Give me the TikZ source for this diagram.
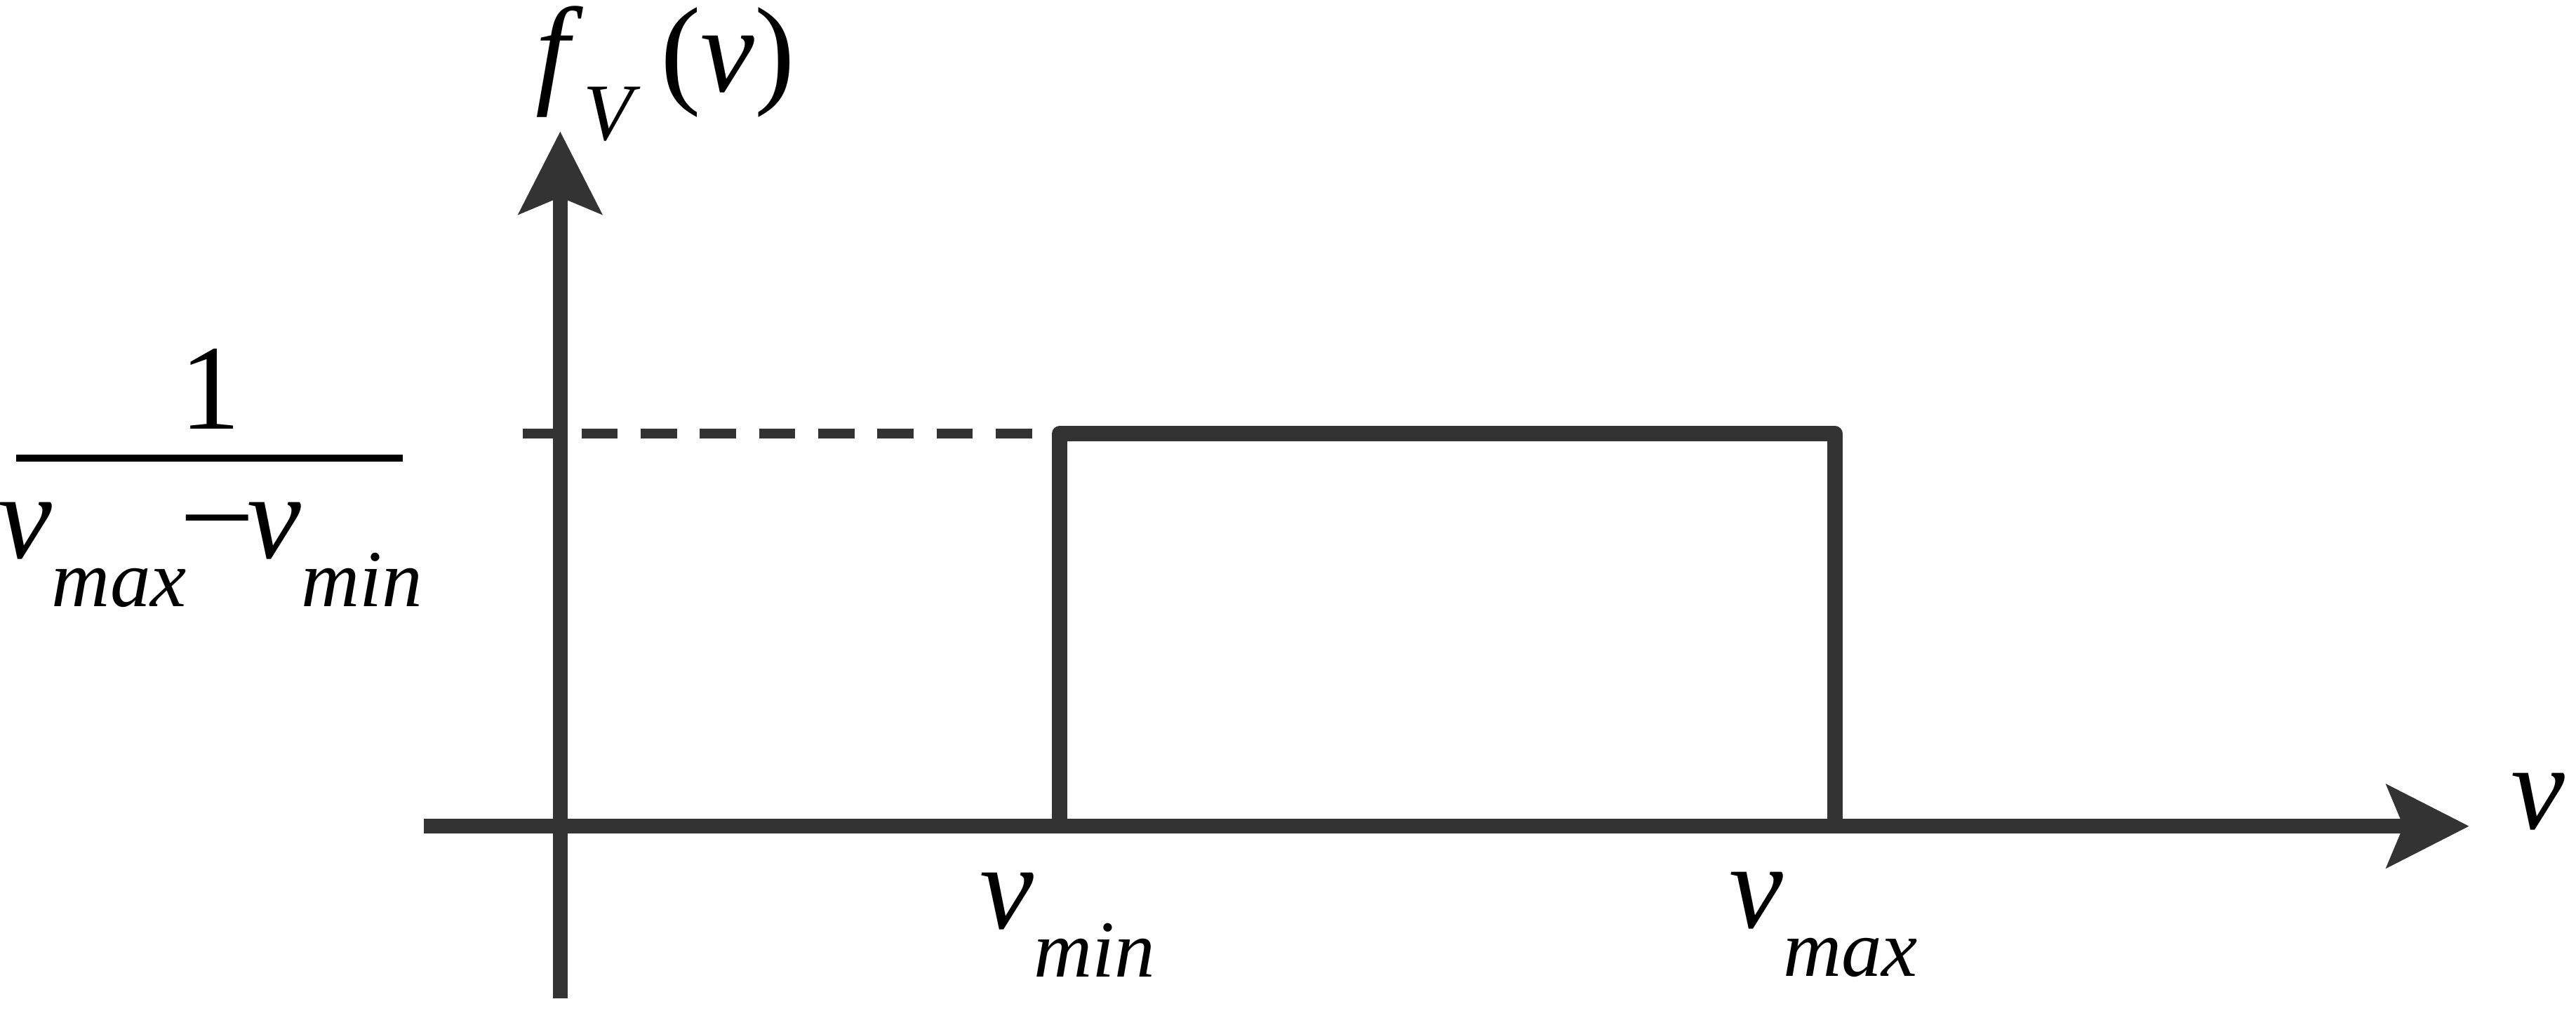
\documentclass[tikz,border=0pt]{standalone}
\usepackage{fontspec}
\setmainfont{Liberation Serif}
\usetikzlibrary{arrows.meta}
\definecolor{ink}{HTML}{333333}
\newcommand{\vsub}[1]{\textit{v}\raisebox{-0.4em}{\fontsize{14}{16}\selectfont\textit{#1}}}
\begin{document}
\begin{tikzpicture}[x=0.01cm,y=-0.01cm,
  axis/.style={draw=ink,line width=2.6pt,-{Stealth[length=0.5cm,width=0.5cm,inset=0.1cm]}},
  box/.style={draw=ink,line width=2.6pt,line join=round},
  lbl/.style={font=\fontsize{21}{25}\selectfont,text=black,inner sep=0pt}]
\useasboundingbox (0,0) rectangle (1568,624);
\coordinate (xs) at (258,503); \coordinate (xe) at (1503,503);
\coordinate (ys) at (341,608); \coordinate (ye) at (341,80);
\draw[axis] (xs) -- (xe);
\draw[axis] (ys) -- (ye);
\coordinate (a) at (645,503); \coordinate (b) at (645,264);
\coordinate (c) at (1117,264); \coordinate (d) at (1117,503);
\draw[box] (a) -- (b) -- (c) -- (d);
\coordinate (ds) at (318,264); \coordinate (de) at (632,264);
\draw[draw=ink,line width=1.6pt,dash pattern=on 0.22cm off 0.14cm] (ds) -- (de);
\node[lbl] (fv) at (405,45) {\textit{f}\raisebox{-0.4em}{\fontsize{14}{16}\selectfont\textit{V}}\,(\textit{v})};
\node[lbl] (one) at (128,237) {1};
\draw[line width=1.2pt] (10,279) -- (245,279);
\node[lbl] (den) at (128,338) {\vsub{max}\raisebox{0.1em}{–}\vsub{min}};
\node[lbl] (vl) at (1545,488) {\textit{v}};
\node[lbl] (vmin) at (650,563) {\vsub{min}};
\node[lbl] (vmax) at (1110,563) {\vsub{max}};
\end{tikzpicture}
\end{document}
